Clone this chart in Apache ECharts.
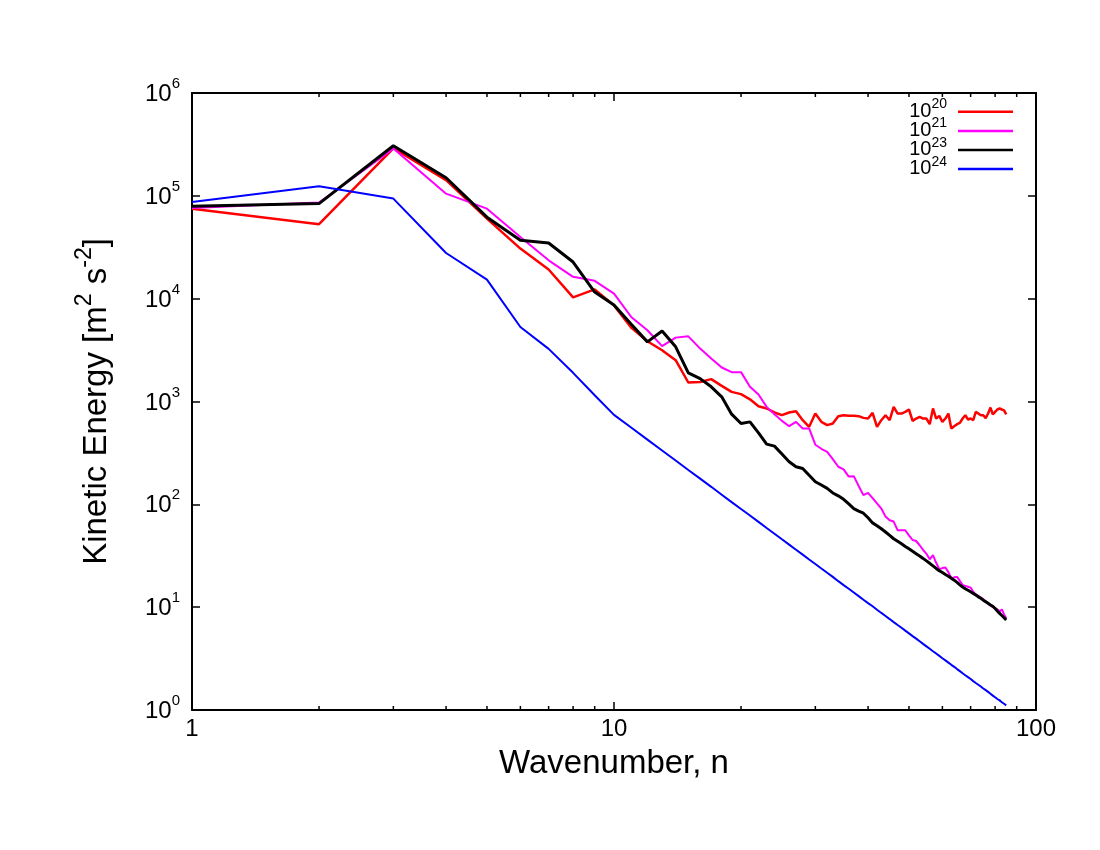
<!DOCTYPE html>
<html><head><meta charset="utf-8">
<script src="https://cdn.jsdelivr.net/npm/echarts@6/dist/echarts.min.js"></script>
<style>html,body{margin:0;padding:0;background:#fff}#c{width:1100px;height:850px}</style>
</head><body><div id="c"></div>
<script>
const wavenumber = [1,2,3,4,5,6,7,8,9,10,11,12,13,14,15,16,17,18,19,20,21,22,23,24,25,26,27,28,29,30,31,32,33,34,35,36,37,38,39,40,41,42,43,44,45,46,47,48,49,50,51,52,53,54,55,56,57,58,59,60,61,62,63,64,65,66,67,68,69,70,71,72,73,74,75,76,77,78,79,80,81,82,83,84,85];

const ke1e20 = [75000,53000,290000,142000,60000,30700,19200,10300,12300,8600,
5200,3850,3150,2520,1530,1550,1650,1420,1240,1180,
1050,900,855,782,736,782,805,658,567,764,
634,589,611,720,736,725,725,720,693,683,
775,567,658,736,658,887,764,764,793,836,
648,683,708,683,683,602,855,683,725,634,
683,764,547,575,602,620,683,736,668,683,
658,793,764,736,736,690,764,873,750,793,
836,855,836,820,750];

const ke1e21 = [76000,86000,288000,105000,75000,39800,23600,16300,14900,11200,
6600,4930,3450,4180,4300,3270,2620,2140,1930,1930,
1390,1170,887,753,648,575,634,547,547,380,
347,324,275,232,219,186,188,151,123,129,
115,102,91,76,70,68,56,56,56,50,
45,44,40,36,33,29.2,32,27,23.4,24,
24.3,21.9,19.1,19.5,19.7,18,16.4,16.1,15.8,15.5,
14.1,13.3,12.9,12.4,11.9,11.4,10.8,10.4,10.0,9.8,
9.5,9.1,9.5,8.5,7.8];

const ke1e23 = [79000,84000,307000,150000,62000,36900,34800,22700,11600,8700,
5600,3800,4850,3400,1900,1670,1390,1110,753,611,
634,495,385,368,308,259,232,223,192,166,
154,143,129,121,112,101,91,86,82,74,
66,62,57.8,53.8,49.9,46.3,43.7,41.3,39.0,36.9,
34.9,33.1,31.4,29.8,28.2,26.7,25.2,23.8,22.6,21.7,
20.8,20.0,19.1,18.3,17.4,16.5,15.7,15.1,14.6,14.1,
13.6,13.1,12.6,12.2,11.7,11.3,10.9,10.5,10.2,9.7,
9.2,8.7,8.3,7.9,7.5];

const ke1e24 = [87000,124000,94000,27800,15300,5300,3250,1900,1150,741,
555,426,334,267,216,178,148,124,105,90.1,
77.8,67.5,58.9,51.8,45.7,40.6,36.2,32.4,29.1,26.3,
23.8,21.6,19.7,17.9,16.4,15.1,13.9,12.8,11.8,10.96,
10.2,9.45,8.79,8.20,7.66,7.16,6.71,6.30,5.91,5.56,
5.23,4.94,4.66,4.40,4.16,3.94,3.73,3.54,3.36,3.19,
3.04,2.89,2.75,2.63,2.50,2.39,2.28,2.18,2.09,2.00,
1.91,1.83,1.76,1.69,1.62,1.56,1.50,1.44,1.38,1.33,
1.28,1.24,1.19,1.15,1.11];

const seriesNames = ['10^20','10^21','10^23','10^24'];
const seriesColors = ['#ff0000','#ff00ff','#000000','#0000ff'];
const seriesWidths = [2.5,2,3,2];
const seriesValues = [ke1e20, ke1e21, ke1e23, ke1e24];
const minorTicksX = [2,3,4,5,6,7,8,9,20,30,40,50,60,70,80,90];

const FONT = '"Liberation Sans", Arial, Helvetica, sans-serif';

const lineSeries = seriesNames.map((name, i) => ({
  name: name,
  type: 'line',
  xAxisIndex: 0, yAxisIndex: 0,
  data: wavenumber.map((n, k) => [n, seriesValues[i][k]]),
  showSymbol: false, symbol: 'none',
  color: seriesColors[i],
  lineStyle: { color: seriesColors[i], width: seriesWidths[i] },
  z: 2 + i
}));

const minorTickSeries = {
  type: 'custom',
  xAxisIndex: 0, yAxisIndex: 0,
  silent: true,
  data: minorTicksX.map(v => [v, 1]),
  renderItem: function (params, api) {
    const cs = params.coordSys;
    const x = api.coord([api.value(0), 1])[0];
    const st = { stroke: '#000', lineWidth: 1.5 };
    return { type: 'group', children: [
      { type: 'line', shape: { x1: x, y1: cs.y + cs.height, x2: x, y2: cs.y + cs.height - 4 }, style: st },
      { type: 'line', shape: { x1: x, y1: cs.y, x2: x, y2: cs.y + 4 }, style: st }
    ]};
  },
  z: 10
};

const axisLineStyle = { show: true, lineStyle: { color: '#000', width: 2 } };
const tickStyle = { show: true, inside: true, length: 8, lineStyle: { color: '#000', width: 1.5 } };

const option = {
  animation: false,
  backgroundColor: '#fff',
  textStyle: { fontFamily: FONT },
  grid: { left: 192, right: 64, top: 93, bottom: 140, containLabel: false },
  legend: {
    data: seriesNames,
    orient: 'vertical',
    right: 87, top: 97.5,
    align: 'right',
    padding: 0,
    itemGap: -4.9,
    itemWidth: 55, itemHeight: 2.5,
    icon: 'rect',
    selectedMode: false,
    formatter: function (name) { const p = name.split('^'); return '{b|' + p[0] + '}{s|' + p[1] + '}'; },
    textStyle: {
      color: '#000', fontFamily: FONT, padding: [0, 6, 0, 0],
      rich: {
        b: { fontSize: 20, lineHeight: 19.4, verticalAlign: 'bottom', fontFamily: FONT, color: '#000' },
        s: { fontSize: 14, lineHeight: 13, padding: [0, 0, 10, 0], verticalAlign: 'bottom', fontFamily: FONT, color: '#000' }
      }
    }
  },
  xAxis: [
    {
      type: 'log', logBase: 10, min: 1, max: 100, position: 'bottom',
      axisLine: axisLineStyle, axisTick: tickStyle, splitLine: { show: false },
      axisLabel: { color: '#000', fontSize: 24, margin: 7, fontFamily: FONT, formatter: v => String(v) },
      name: 'Wavenumber, n', nameLocation: 'middle', nameGap: 37,
      nameTextStyle: { color: '#000', fontSize: 33, fontFamily: FONT }
    },
    {
      type: 'log', logBase: 10, min: 1, max: 100, position: 'top',
      axisLine: axisLineStyle, axisTick: tickStyle, splitLine: { show: false },
      axisLabel: { show: false }
    }
  ],
  yAxis: [
    {
      type: 'log', logBase: 10, min: 1, max: 1000000, position: 'left',
      axisLine: axisLineStyle, axisTick: tickStyle, splitLine: { show: false },
      axisLabel: {
        color: '#000', margin: 12, fontFamily: FONT, padding: [3, 0, 0, 0],
        formatter: v => '{b|10}{s|' + Math.round(Math.log10(v)) + '}',
        rich: {
          b: { fontSize: 24, lineHeight: 24, verticalAlign: 'bottom', fontFamily: FONT, color: '#000' },
          s: { fontSize: 15, lineHeight: 15, padding: [0, 0, 15, 0], verticalAlign: 'bottom', fontFamily: FONT, color: '#000' }
        }
      },
      name: '{t|Kinetic Energy [m}{s|2}{t| s}{s|-2}{t|]}',
      nameLocation: 'middle', nameGap: 79, nameRotate: 90,
      nameTextStyle: {
        color: '#000', fontSize: 33, fontFamily: FONT,
        rich: {
          t: { fontSize: 33, lineHeight: 36, verticalAlign: 'bottom', fontFamily: FONT, color: '#000' },
          s: { fontSize: 23, lineHeight: 22, padding: [0, 0, 17, 0], verticalAlign: 'bottom', fontFamily: FONT, color: '#000' }
        }
      }
    },
    {
      type: 'log', logBase: 10, min: 1, max: 1000000, position: 'right',
      axisLine: axisLineStyle, axisTick: tickStyle, splitLine: { show: false },
      axisLabel: { show: false }
    }
  ],
  series: lineSeries.concat([minorTickSeries])
};

const chart = echarts.init(document.getElementById('c'), null, { renderer: 'canvas' });
chart.setOption(option);
</script>
</body></html>
